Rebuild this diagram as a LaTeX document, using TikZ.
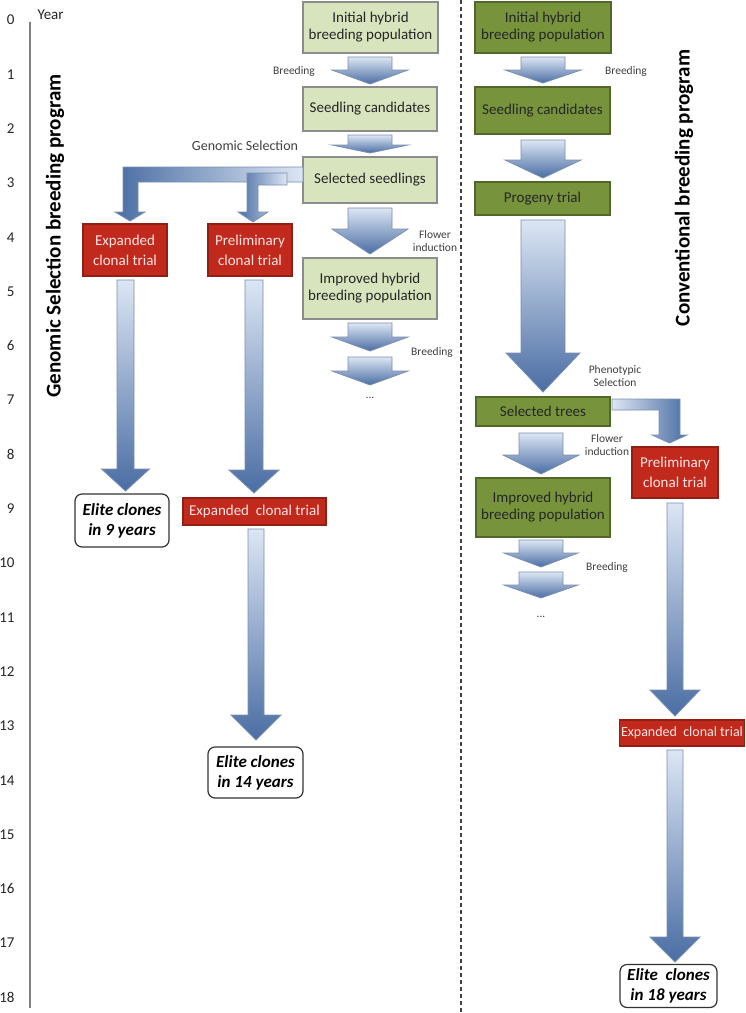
\documentclass[tikz,border=0pt]{standalone}
\usepackage{fontspec}
\setmainfont{Carlito}
\usetikzlibrary{calc}
\definecolor{lgreen}{HTML}{D7E4BD}
\definecolor{olivebox}{HTML}{77933C}
\definecolor{dred}{HTML}{C0291B}
\definecolor{adark}{HTML}{4A6DA3}
\definecolor{alight}{HTML}{DCE6F4}
\definecolor{aedge}{HTML}{7C8FAE}
\definecolor{labgray}{HTML}{404040}
\tikzset{
  arrowshape/.style={draw=aedge, line width=0.8pt, top color=alight, bottom color=adark},
  basebox/.style={inner sep=0pt, align=center, line width=1.2pt},
  gbox/.style={basebox, draw=black!45, fill=lgreen, text=black!85, font=\fontsize{15}{17}\selectfont},
  obox/.style={basebox, draw=olivebox!70!black, fill=olivebox, text=black!85, font=\fontsize{15}{17}\selectfont},
  rbox/.style={basebox, draw=dred!75!black, fill=dred, text=white!90!red, font=\fontsize{15}{20}\selectfont},
  ebox/.style={basebox, rounded corners=7pt, draw=black!80, fill=white, text=black, font=\fontsize{17}{20}\selectfont\bfseries\itshape},
  smalllab/.style={text=labgray, align=center, font=\fontsize{11.5}{13}\selectfont},
  yearlab/.style={anchor=east, text=black!85, font=\fontsize{15}{18}\selectfont},
  titlelab/.style={rotate=90, text=black, font=\fontsize{21}{24}\selectfont\bfseries}
}
\newcommand\barrow[6]{\shade[arrowshape] (#1-#3,#2) -- (#1+#3,#2) -- (#1+#3,#5) -- (#1+#4,#5) -- (#1,#6) -- (#1-#4,#5) -- (#1-#3,#5) -- cycle;}
\begin{document}
\begin{tikzpicture}[x=1pt,y=-1pt]
\useasboundingbox[fill=white] (0,0) rectangle (746,1013);

% year axis
\draw[black!50, line width=2pt] (30,22) -- (30,1008);
\node[anchor=west, text=black!85, font=\fontsize{15}{18}\selectfont] (year) at (34,15) {Year};
\foreach \k in {0,...,18}{
  \node[yearlab] (y\k) at (18,{20+54.3*\k}) {\k};
}
% dashed separator
\draw[black!75, line width=1.5pt, dash pattern=on 4pt off 3pt] (461,0) -- (461,1013);

% titles
\node[titlelab] (tl) at (55,236) {Genomic Selection breeding program};
\node[titlelab] (tr) at (684,188) {Conventional breeding program};

% centre column boxes
\node[gbox, minimum width=135pt, minimum height=51pt] (c1) at (370.5,27.5) {Initial hybrid\\breeding population};
\node[gbox, minimum width=134pt, minimum height=44pt] (c2) at (370,109) {Seedling candidates};
\node[gbox, minimum width=134pt, minimum height=46pt] (c3) at (370,180) {Selected seedlings};
\node[gbox, minimum width=134pt, minimum height=61pt] (c4) at (370,288.5) {Improved hybrid\\breeding population};

% right column boxes
\node[obox, minimum width=136pt, minimum height=51pt] (r1) at (543,27.5) {Initial hybrid\\breeding population};
\node[obox, minimum width=135pt, minimum height=47pt] (r2) at (542.5,110.5) {Seedling candidates};
\node[obox, minimum width=135pt, minimum height=33pt] (r3) at (542.5,198.5) {Progeny trial};
\node[obox, minimum width=134pt, minimum height=29pt] (r4) at (543,411.5) {Selected trees};
\node[obox, minimum width=134pt, minimum height=59pt] (r5) at (543,507.5) {Improved hybrid\\breeding population};

% red boxes
\node[rbox, minimum width=84pt, minimum height=52pt] (e1) at (125,250) {Expanded\\clonal trial};
\node[rbox, minimum width=84pt, minimum height=52pt] (p1) at (250,250) {Preliminary\\clonal trial};
\node[rbox, minimum width=143pt, minimum height=27pt] (e2) at (254.5,511.5) {Expanded~~clonal trial};
\node[rbox, minimum width=86pt, minimum height=51pt] (p2) at (675,472.5) {Preliminary\\clonal trial};
\node[rbox, minimum width=125pt, minimum height=26pt, font=\fontsize{14}{16}\selectfont] (e3) at (682,733) {Expanded~~clonal trial};

% elite boxes
\node[ebox, minimum width=94pt, minimum height=53pt] (el1) at (122,520.5) {Elite clones\\in 9 years};
\node[ebox, minimum width=95pt, minimum height=51pt] (el2) at (255.5,772.5) {Elite clones\\in 14 years};
\node[ebox, minimum width=97pt, minimum height=43pt] (el3) at (668.5,986) {Elite~~clones\\in 18 years};

% centre column arrows
\barrow{370}{57}{22}{38}{70}{84}
\barrow{370}{135}{22}{38}{145}{153}
\barrow{370}{208}{22}{38}{229}{254}
\barrow{370}{323}{22}{38}{337}{351}
\barrow{370}{357}{22}{38}{371}{385}

% right column arrows
\barrow{543}{57}{22}{38}{70}{83}
\barrow{543}{140}{22}{38}{160}{178}
\barrow{543}{220}{22}{37}{353}{392}
\barrow{541}{433}{22}{38}{455}{474}
\barrow{541}{540}{22}{37}{553}{567}
\barrow{541}{572}{22}{37}{585}{598}

% long arrows
\barrow{125.5}{280}{8.5}{24}{469}{491}
\barrow{254}{280}{9}{25}{470}{493}
\barrow{256}{529}{8}{25}{715}{740}
\barrow{675}{503}{8}{25}{690}{716}
\barrow{675}{750}{8}{25}{937}{962}

% L arrows from selected seedlings
\shade[draw=aedge, line width=0.8pt, left color=adark, right color=alight]
  (303,167) -- (123,167) -- (123,212) -- (115,212) -- (130,221) -- (145,212) -- (138,212) -- (138,182) -- (303,182) -- cycle;
\shade[draw=aedge, line width=0.8pt, left color=adark, right color=alight]
  (287,173) -- (247,173) -- (247,212) -- (238,212) -- (253,222) -- (268,212) -- (258,212) -- (258,185) -- (287,185) -- cycle;
% L arrow from selected trees
\shade[draw=aedge, line width=0.8pt, left color=alight, right color=adark]
  (612,399) -- (680,399) -- (680,435) -- (687,435) -- (669.5,443) -- (652,435) -- (659,435) -- (659,410) -- (612,410) -- cycle;

% labels
\node[smalllab] (lb1) at (294,71) {Breeding};
\node[text=labgray, font=\fontsize{14}{16}\selectfont] (lgs) at (245,146) {Genomic Selection};
\node[smalllab] (lf1) at (435,241) {Flower\\induction};
\node[smalllab] (lb2) at (432,352) {Breeding};
\node[smalllab] (ld1) at (370,398) {...};
\node[smalllab] (lb3) at (626,71) {Breeding};
\node[smalllab] (lps) at (615,376) {Phenotypic\\Selection};
\node[smalllab] (lf2) at (607,445) {Flower\\induction};
\node[smalllab] (lb4) at (607,567) {Breeding};
\node[smalllab] (ld2) at (541,617) {...};
\end{tikzpicture}
\end{document}
